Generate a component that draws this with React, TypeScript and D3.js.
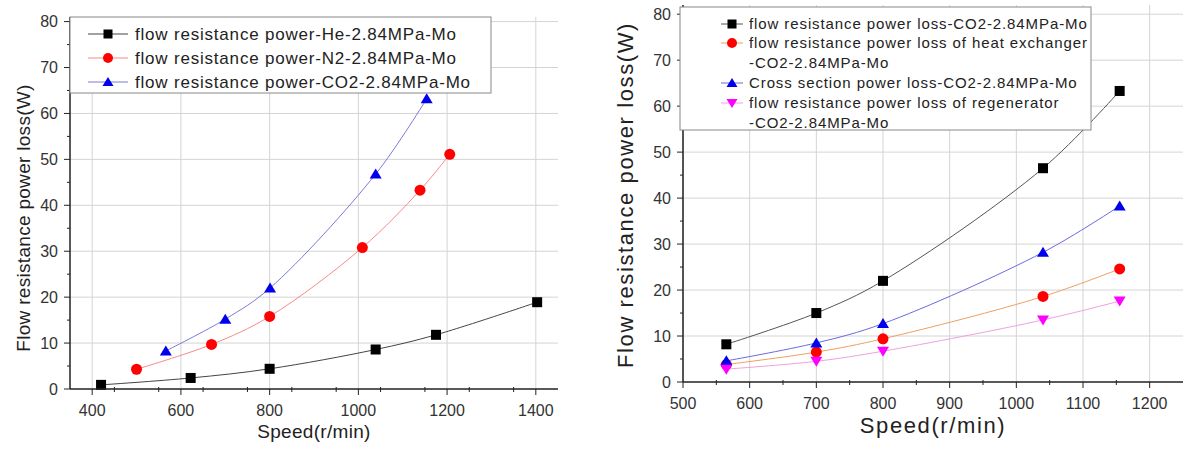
import React from "react";
import * as d3 from "d3";

// left panel: gases
const heSpeed = [420, 622, 800, 1039, 1175, 1403];
const heLoss = [0.9, 2.4, 4.4, 8.6, 11.8, 18.9];
const n2Speed = [500, 669, 800, 1009, 1139, 1206];
const n2Loss = [4.3, 9.7, 15.8, 30.8, 43.3, 51.1];
const co2Speed = [566, 700, 801, 1039, 1154];
const co2Loss = [8.3, 15.2, 22.0, 46.8, 63.2];

// right panel: CO2 components
const partSpeed = [565, 700, 800, 1040, 1155];
const totalLoss = [8.2, 15.0, 22.0, 46.5, 63.3];
const heatExLoss = [3.8, 6.5, 9.4, 18.6, 24.6];
const crossLoss = [4.6, 8.5, 12.7, 28.2, 38.3];
const regenLoss = [2.8, 4.5, 6.7, 13.5, 17.6];

const leftXTicks = [400, 600, 800, 1000, 1200, 1400];
const rightXTicks = [500, 600, 700, 800, 900, 1000, 1100, 1200];
const yTicks = [0, 10, 20, 30, 40, 50, 60, 70, 80];

type Series = {
  xs: number[];
  ys: number[];
  marker: string;
  fill: string;
  stroke: string;
  label: string[];
};

const Marker = ({ type, x, y, fill, s }: { type: string; x: number; y: number; fill: string; s: number }) => {
  if (type === "square")
    return <rect x={x - s / 2} y={y - s / 2} width={s} height={s} fill={fill} />;
  if (type === "circle") return <circle cx={x} cy={y} r={s / 2 + 0.5} fill={fill} />;
  const h = s * 0.9;
  if (type === "tri")
    return <path d={`M${x},${y - h / 2 - 1}L${x + s / 2 + 1},${y + h / 2}L${x - s / 2 - 1},${y + h / 2}Z`} fill={fill} />;
  return <path d={`M${x},${y + h / 2 + 1}L${x + s / 2 + 1},${y - h / 2}L${x - s / 2 - 1},${y - h / 2}Z`} fill={fill} />;
};

const Panel = (props: {
  left: number;
  right: number;
  top: number;
  bottom: number;
  xDomain: [number, number];
  yDomain: [number, number];
  xTicks: number[];
  xMinorStep: number;
  series: Series[];
  tickFont: number;
  labelFont: number;
  labelSpacing: number;
  yLabelX: number;
  yLabelY: number;
  xLabelY: number;
  legend: { x: number; y: number; w: number; h: number; rows: number[]; symX: number; symHalf: number; textX: number; font: number; spacing: number };
  markerSize: number;
}) => {
  const { left, right, top, bottom, series, legend } = props;
  const x = d3.scaleLinear().domain(props.xDomain).range([left, right]);
  const y = d3.scaleLinear().domain(props.yDomain).range([bottom, top]);
  const line = d3.line<number>().curve(d3.curveCatmullRom.alpha(0.5));
  const xMinor = d3
    .range(props.xDomain[0], props.xDomain[1], props.xMinorStep)
    .filter((v) => !props.xTicks.includes(v) && v > props.xDomain[0]);
  const yMinor = d3.range(5, props.yDomain[1], 10);
  const gridColor = "#d4d4d4";
  let row = 0;

  return (
    <g fontFamily="'Liberation Sans', Arial, sans-serif">
      {props.xTicks.map((t) => (
        <line key={"gx" + t} x1={x(t)} x2={x(t)} y1={top} y2={bottom} stroke={gridColor} strokeWidth={1} />
      ))}
      {yTicks.slice(1).map((t) => (
        <line key={"gy" + t} x1={left} x2={right} y1={y(t)} y2={y(t)} stroke={gridColor} strokeWidth={1} />
      ))}
      {series.map((s, i) => (
        <path
          key={"l" + i}
          d={line(s.xs.map((v, j) => [x(v), y(s.ys[j])]) as any) || ""}
          fill="none"
          stroke={s.stroke}
          strokeWidth={1}
        />
      ))}
      {series.map((s, i) =>
        s.xs.map((v, j) => (
          <Marker key={`m${i}-${j}`} type={s.marker} x={x(v)} y={y(s.ys[j])} fill={s.fill} s={props.markerSize} />
        ))
      )}
      {/* axes */}
      <line x1={left} x2={left} y1={top} y2={bottom} stroke="#222" strokeWidth={1.5} />
      <line x1={left} x2={right} y1={bottom} y2={bottom} stroke="#222" strokeWidth={1.5} />
      {yTicks.map((t) => (
        <g key={"yt" + t}>
          <line x1={left - 6} x2={left} y1={y(t)} y2={y(t)} stroke="#222" />
          <text x={left - 12} y={y(t)} dy="0.35em" textAnchor="end" fontSize={props.tickFont} fill="#333">
            {t}
          </text>
        </g>
      ))}
      {yMinor.map((t) => (
        <line key={"ym" + t} x1={left - 3} x2={left} y1={y(t)} y2={y(t)} stroke="#222" />
      ))}
      {props.xTicks.map((t) => (
        <g key={"xt" + t}>
          <line x1={x(t)} x2={x(t)} y1={bottom} y2={bottom + 6} stroke="#222" />
          <text x={x(t)} y={bottom + 27} textAnchor="middle" fontSize={props.tickFont} fill="#333">
            {t}
          </text>
        </g>
      ))}
      {xMinor.map((t) => (
        <line key={"xm" + t} x1={x(t)} x2={x(t)} y1={bottom - 2} y2={bottom + 3} stroke="#222" />
      ))}
      <text
        transform={`translate(${props.yLabelX},${props.yLabelY}) rotate(-90)`}
        textAnchor="middle"
        fontSize={props.labelFont}
        letterSpacing={props.labelSpacing}
        fill="#222"
      >
        Flow resistance power loss(W)
      </text>
      <text
        x={(left + right) / 2}
        y={props.xLabelY}
        textAnchor="middle"
        fontSize={props.labelFont}
        letterSpacing={props.labelSpacing}
        fill="#222"
      >
        Speed(r/min)
      </text>
      {/* legend */}
      <rect x={legend.x} y={legend.y} width={legend.w} height={legend.h} fill="#fff" stroke="#888" strokeWidth={1} />
      {series.map((s, i) => {
        const r0 = row;
        row += s.label.length;
        const cy = legend.rows[r0];
        return (
          <g key={"lg" + i}>
            <line x1={legend.symX - legend.symHalf} x2={legend.symX + legend.symHalf} y1={cy} y2={cy} stroke={s.stroke} />
            <Marker type={s.marker} x={legend.symX} y={cy} fill={s.fill} s={props.markerSize - 1} />
            {s.label.map((t, k) => (
              <text
                key={k}
                x={legend.textX}
                y={legend.rows[r0 + k]}
                dy="0.35em"
                fontSize={legend.font}
                letterSpacing={legend.spacing}
                fill="#222"
              >
                {t}
              </text>
            ))}
          </g>
        );
      })}
    </g>
  );
};

export default function App() {
  const leftSeries: Series[] = [
    { xs: heSpeed, ys: heLoss, marker: "square", fill: "#000", stroke: "#444", label: ["flow resistance power-He-2.84MPa-Mo"] },
    { xs: n2Speed, ys: n2Loss, marker: "circle", fill: "#ff0000", stroke: "#f58a8a", label: ["flow resistance power-N2-2.84MPa-Mo"] },
    { xs: co2Speed, ys: co2Loss, marker: "tri", fill: "#0000ee", stroke: "#7a7ad8", label: ["flow resistance power-CO2-2.84MPa-Mo"] },
  ];
  const rightSeries: Series[] = [
    { xs: partSpeed, ys: totalLoss, marker: "square", fill: "#000", stroke: "#555", label: ["flow resistance power loss-CO2-2.84MPa-Mo"] },
    { xs: partSpeed, ys: heatExLoss, marker: "circle", fill: "#ff0000", stroke: "#f0a060", label: ["flow resistance power loss of heat exchanger", " -CO2-2.84MPa-Mo"] },
    { xs: partSpeed, ys: crossLoss, marker: "tri", fill: "#0000ee", stroke: "#6a6ae0", label: ["Cross section power loss-CO2-2.84MPa-Mo"] },
    { xs: partSpeed, ys: regenLoss, marker: "down", fill: "#ff00ff", stroke: "#f0a0e0", label: ["flow resistance power loss of regenerator", " -CO2-2.84MPa-Mo"] },
  ];
  return (
    <svg width={1184} height={457} style={{ position: "absolute", left: 0, top: 0, background: "#fff" }}>
      <rect width={1184} height={457} fill="#fff" />
      <Panel
        left={70}
        right={558}
        top={17}
        bottom={389}
        xDomain={[350, 1450]}
        yDomain={[0, 81]}
        xTicks={leftXTicks}
        xMinorStep={100}
        series={leftSeries}
        tickFont={16}
        labelFont={19}
        labelSpacing={0.3}
        yLabelX={30}
        yLabelY={218}
        xLabelY={438}
        legend={{ x: 70, y: 17, w: 421, h: 76, rows: [34, 58, 82], symX: 108, symHalf: 20, textX: 135, font: 17, spacing: 0.8 }}
        markerSize={10}
      />
      <Panel
        left={683}
        right={1183}
        top={5}
        bottom={382}
        xDomain={[500, 1250]}
        yDomain={[0, 82]}
        xTicks={rightXTicks}
        xMinorStep={50}
        series={rightSeries}
        tickFont={16}
        labelFont={22}
        labelSpacing={1.6}
        yLabelX={633}
        yLabelY={195}
        xLabelY={433}
        legend={{ x: 680, y: 7, w: 411, h: 123, rows: [24, 43, 63, 83, 103, 123], symX: 732, symHalf: 11, textX: 749, font: 15, spacing: 0.9 }}
        markerSize={10}
      />
    </svg>
  );
}
